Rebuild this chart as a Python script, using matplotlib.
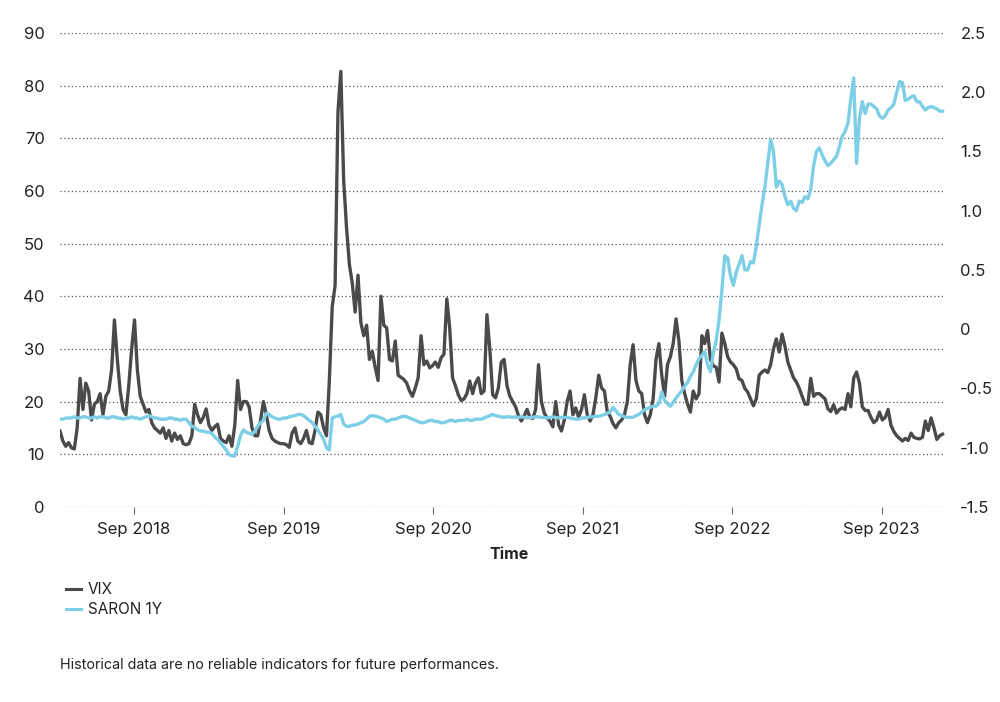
import numpy as np
import pandas as pd
import matplotlib
matplotlib.use("Agg")
import matplotlib.pyplot as plt
import matplotlib.dates as mdates
from matplotlib.lines import Line2D

plt.rcParams['font.family'] = ['Inter', 'DejaVu Sans']

dates = pd.date_range("2018-03-04", periods=309, freq="7D")

vix = [
    14.4, 12.5, 11.5, 12.2, 11.2, 11.0, 15.0, 24.4, 18.5, 23.5,
    22.0, 16.5, 19.5, 20.0, 21.5, 17.5, 21.0, 22.0, 26.0, 35.5,
    28.0, 22.0, 18.5, 17.5, 23.0, 30.0, 35.5, 26.0, 21.0, 19.5,
    18.0, 18.5, 16.0, 15.0, 14.5, 14.0, 15.0, 13.0, 14.5, 12.5,
    14.0, 12.8, 13.5, 12.0, 11.8, 12.0, 13.5, 19.5, 17.5, 16.0,
    17.0, 18.6, 15.5, 14.5, 15.2, 15.7, 13.0, 12.5, 12.2, 13.5,
    11.5, 15.5, 24.0, 18.5, 20.0, 20.0, 19.0, 15.0, 13.5, 13.5,
    16.5, 20.0, 17.5, 14.5, 13.0, 12.5, 12.2, 12.0, 12.0, 11.8,
    11.3, 14.0, 15.0, 12.5, 12.0, 13.0, 14.5, 12.2, 12.0, 14.5,
    18.0, 17.5, 15.0, 13.5, 24.0, 38.0, 42.0, 75.0, 82.7, 62.0,
    53.0, 46.0, 42.5, 37.0, 44.0, 35.0, 32.5, 34.5, 28.0, 29.5,
    26.5, 24.0, 40.0, 34.5, 34.0, 28.0, 27.7, 31.5, 25.0, 24.6,
    24.2, 23.5, 22.0, 21.0, 22.6, 24.5, 32.5, 27.0, 27.7, 26.4,
    26.8, 27.5, 26.5, 28.3, 29.0, 39.5, 34.0, 24.5, 23.0, 21.3,
    20.2, 20.5, 21.5, 23.9, 21.5, 23.5, 24.5, 21.5, 22.0, 36.5,
    30.0, 21.3, 20.7, 22.6, 27.5, 28.0, 23.0, 21.0, 20.0, 19.0,
    17.3, 16.3, 17.3, 18.5, 17.0, 16.8, 18.5, 27.0, 20.0, 17.8,
    16.9, 16.3, 15.2, 20.0, 15.6, 14.4, 16.5, 20.0, 22.0, 17.5,
    18.8, 17.0, 18.5, 21.3, 17.5, 16.3, 17.5, 20.7, 25.0, 22.6,
    22.0, 18.0, 17.2, 15.8, 15.0, 16.0, 16.5, 17.5, 20.0, 27.0,
    30.8, 24.0, 22.0, 21.5, 17.5, 16.0, 17.5, 20.5, 28.0, 31.0,
    25.0, 21.0, 27.0, 28.5, 31.0, 35.7, 31.5, 24.0, 21.5, 19.5,
    18.0, 22.0, 20.5, 21.5, 32.5, 31.0, 33.5, 28.0, 26.8, 26.5,
    23.7, 33.0, 31.0, 28.5, 27.5, 27.0, 26.2, 24.3, 24.0, 22.5,
    21.8, 20.5, 19.2, 20.5, 25.0, 25.6, 26.0, 25.5, 27.0, 30.0,
    31.9, 29.4, 32.8, 30.5, 27.5, 26.0, 24.5, 23.7, 22.5, 21.0,
    19.5, 19.5, 24.4, 21.0, 21.5, 21.5, 21.0, 20.5, 18.6, 18.1,
    19.4, 17.8, 18.5, 18.8, 18.5, 21.5, 19.0, 24.5, 25.6, 23.5,
    19.0, 18.3, 18.3, 17.0, 16.0, 16.5, 18.0, 16.5, 17.0, 18.5,
    15.5, 14.3, 13.5, 13.0, 12.5, 13.0, 12.6, 14.0, 13.2, 13.0,
    12.9, 13.2, 16.3, 14.5, 16.9, 15.0, 12.8, 13.5, 13.8,
]

saron = [
    -0.76, -0.76, -0.75, -0.75, -0.75, -0.74, -0.75, -0.75, -0.74, -0.74,
    -0.75, -0.75, -0.74, -0.75, -0.74, -0.74, -0.75, -0.75, -0.74, -0.74,
    -0.75, -0.75, -0.76, -0.75, -0.75, -0.74, -0.75, -0.75, -0.76, -0.75,
    -0.74, -0.73, -0.74, -0.75, -0.75, -0.76, -0.76, -0.76, -0.75, -0.75,
    -0.76, -0.76, -0.77, -0.76, -0.76, -0.79, -0.82, -0.83, -0.85, -0.86,
    -0.86, -0.87, -0.87, -0.88, -0.91, -0.93, -0.96, -0.99, -1.02, -1.06,
    -1.07, -1.07, -0.99, -0.90, -0.85, -0.87, -0.88, -0.89, -0.86, -0.82,
    -0.79, -0.77, -0.71, -0.72, -0.74, -0.75, -0.76, -0.76, -0.75, -0.75,
    -0.74, -0.735, -0.73, -0.72, -0.72, -0.73, -0.75, -0.77, -0.79, -0.82,
    -0.85, -0.89, -0.93, -1.00, -1.02, -0.75, -0.74, -0.735, -0.72, -0.80,
    -0.82, -0.82, -0.81, -0.81, -0.80, -0.79, -0.78, -0.76, -0.735, -0.73,
    -0.735, -0.74, -0.75, -0.76, -0.78, -0.77, -0.76, -0.76, -0.75, -0.74,
    -0.735, -0.74, -0.75, -0.76, -0.77, -0.78, -0.79, -0.79, -0.78, -0.77,
    -0.77, -0.78, -0.78, -0.79, -0.79, -0.78, -0.77, -0.77, -0.78, -0.77,
    -0.77, -0.77, -0.76, -0.77, -0.77, -0.76, -0.76, -0.76, -0.75, -0.74,
    -0.73, -0.72, -0.73, -0.735, -0.74, -0.745, -0.74, -0.74, -0.745, -0.74,
    -0.745, -0.74, -0.745, -0.75, -0.745, -0.745, -0.74, -0.74, -0.745, -0.745,
    -0.75, -0.745, -0.74, -0.745, -0.75, -0.745, -0.745, -0.745, -0.75, -0.755,
    -0.76, -0.76, -0.75, -0.75, -0.745, -0.74, -0.74, -0.735, -0.735, -0.73,
    -0.72, -0.71, -0.70, -0.66, -0.69, -0.72, -0.73, -0.74, -0.745, -0.745,
    -0.745, -0.73, -0.72, -0.70, -0.68, -0.67, -0.66, -0.65, -0.65, -0.63,
    -0.53, -0.60, -0.63, -0.65, -0.62, -0.58, -0.55, -0.52, -0.48, -0.45,
    -0.40, -0.36, -0.30, -0.25, -0.22, -0.19, -0.30, -0.36, -0.20, -0.10,
    0.08, 0.33, 0.62, 0.60, 0.45, 0.37, 0.48, 0.55, 0.62, 0.50,
    0.50, 0.57, 0.56, 0.70, 0.88, 1.05, 1.20, 1.40, 1.60, 1.50,
    1.20, 1.25, 1.22, 1.12, 1.05, 1.08, 1.02, 1.00, 1.08, 1.07,
    1.12, 1.10, 1.18, 1.38, 1.50, 1.53, 1.47, 1.42, 1.38, 1.40,
    1.43, 1.46, 1.54, 1.63, 1.67, 1.74, 1.95, 2.12, 1.40, 1.78,
    1.92, 1.82, 1.90, 1.90, 1.88, 1.86, 1.80, 1.78, 1.80, 1.85,
    1.87, 1.90, 2.00, 2.09, 2.08, 1.93, 1.94, 1.96, 1.97, 1.92,
    1.92, 1.88, 1.85, 1.87, 1.88, 1.87, 1.86, 1.84, 1.84,
]

vix_color = "#4a4a4a"
saron_color = "#7ccfe6"
grid_color = "#555555"
text_color = "#222222"

fig = plt.figure(figsize=(10, 7.02), dpi=100)
ax = fig.add_axes([0.06, 0.278, 0.885, 0.675])
ax2 = ax.twinx()

ax.plot(dates, vix, color=vix_color, lw=2.4, solid_joinstyle="round")
ax2.plot(dates, saron, color=saron_color, lw=2.4, solid_joinstyle="round")

# left axis (VIX)
ax.set_ylim(0, 90)
ax.set_yticks(np.arange(0, 91, 10))
ax.grid(axis="y", linestyle=(0, (1, 2)), color=grid_color, lw=0.9)
ax.set_axisbelow(True)

# right axis (SARON 1Y)
ax2.set_ylim(-1.5, 2.5)
ax2.set_yticks(np.arange(-1.5, 2.51, 0.5))
ax2.set_yticklabels(["0" if abs(v) < 1e-9 else f"{v:.1f}" for v in np.arange(-1.5, 2.51, 0.5)])

ax.set_xlim(pd.Timestamp("2018-03-04"), pd.Timestamp("2024-02-03"))
ax.xaxis.set_major_locator(mdates.MonthLocator(bymonth=9, bymonthday=1))
ax.xaxis.set_major_formatter(mdates.DateFormatter("%b %Y"))

for a in (ax, ax2):
    for s in a.spines.values():
        s.set_visible(False)

ax.tick_params(axis="y", length=0, pad=11, labelsize=12, labelcolor=text_color)
ax2.tick_params(axis="y", length=0, pad=11, labelsize=12, labelcolor=text_color)
ax.tick_params(axis="x", length=5, width=0.8, color="#666666", pad=6,
               labelsize=12, labelcolor=text_color)

ax.set_xlabel("Time", fontsize=11.5, fontweight="bold", color=text_color)
ax.xaxis.set_label_coords(0.507, -0.085)

handles = [Line2D([], [], color=vix_color, lw=2.2),
           Line2D([], [], color=saron_color, lw=2.2)]
fig.legend(handles, ["VIX", "SARON 1Y"], loc="upper left",
           bbox_to_anchor=(0.052, 0.19), frameon=False, fontsize=11,
           handlelength=1.0, handletextpad=0.45, labelspacing=0.3,
           labelcolor=text_color)

fig.text(0.06, 0.053, "Historical data are no reliable indicators for future performances.",
         fontsize=10.3, color=text_color, va="center", ha="left")

fig.savefig("out.png", dpi=100)
